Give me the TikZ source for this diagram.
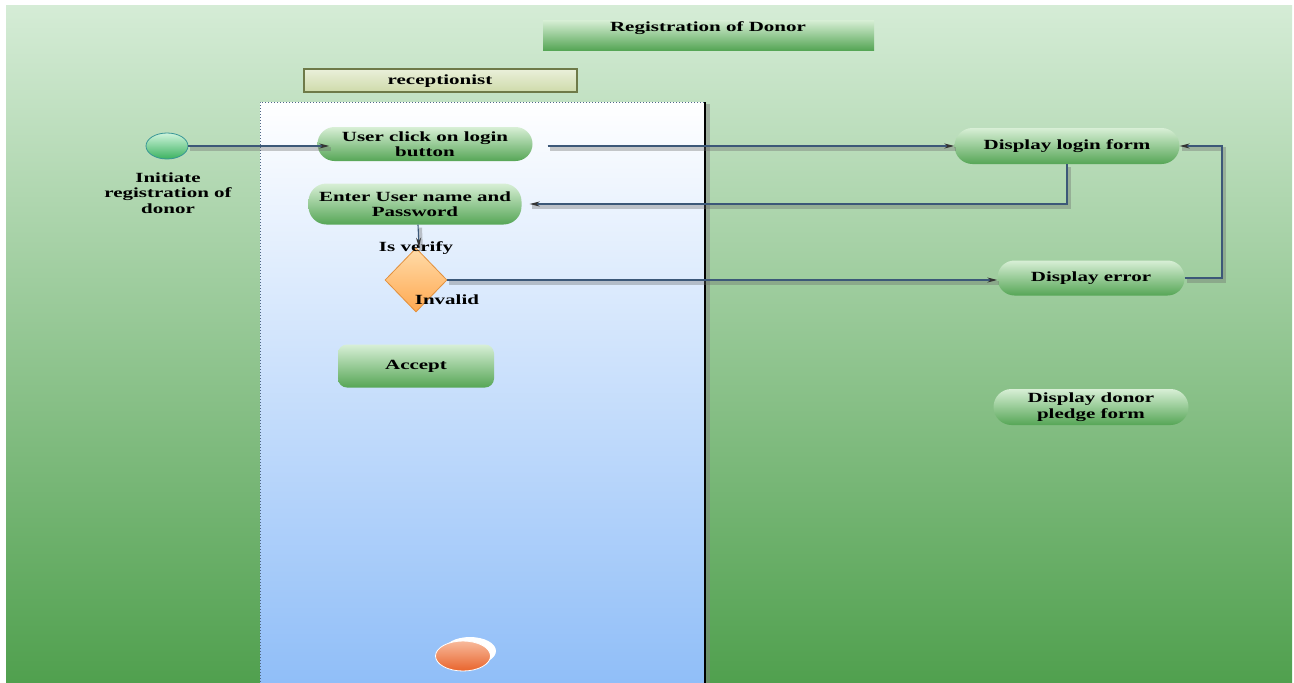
\documentclass[tikz,border=0pt]{standalone}
\usepackage{fontspec}
\usetikzlibrary{arrows.meta,shapes.geometric}
\newfontfamily\lblfont[FakeStretch=1.5]{Liberation Serif}
\definecolor{bgtop}{RGB}{213,236,214}
\definecolor{bgbot}{RGB}{80,160,78}
\definecolor{ndtop}{RGB}{216,239,214}
\definecolor{ndbot}{RGB}{86,166,86}
\definecolor{lanebot}{RGB}{144,190,248}
\definecolor{lineblue}{RGB}{60,88,120}
\definecolor{dmtop}{RGB}{255,220,170}
\definecolor{dmbot}{RGB}{255,168,80}
\definecolor{dmedge}{RGB}{226,144,60}
\tikzset{
  txt/.style={font=\lblfont\bfseries\fontsize{14}{15.5}\selectfont, align=center, text=black},
  act/.style={txt, rounded corners=17pt, top color=ndtop, bottom color=ndbot, draw=none, inner sep=0pt},
  flow/.style={draw=lineblue, line width=1.1pt, -{Stealth[length=10pt,width=5pt,color=black!80]},
    preaction={draw=black!60, opacity=0.35, line width=4pt, arrows=-, transform canvas={shift={(2pt,-3pt)}}}},
}
\begin{document}
\begin{tikzpicture}[x=1pt,y=-1pt]
\useasboundingbox (0,0) rectangle (1294,683);
\fill[white] (0,0) rectangle (1294,683);
\shade[top color=bgtop, bottom color=bgbot] (6,5) rectangle (1292,683);
% title
\shade[top color=ndtop, bottom color=ndbot] (543,20) rectangle (874,50);
\node[txt] (title) at (708,28) {Registration of Donor};
% receptionist header
\draw[draw={rgb,255:red,110;green,122;blue,72}, line width=1.5pt, top color={rgb,255:red,234;green,240;blue,218}, bottom color={rgb,255:red,206;green,218;blue,170}] (304,69) rectangle (577,92);
\node[txt] (recp) at (440,81) {receptionist};
% swimlane
\shade[top color=white, bottom color=lanebot] (260,102) rectangle (705,683);
\draw[dotted, line width=1pt, draw={rgb,255:red,80;green,104;blue,136}] (705,683) -- (705,102) -- (260,102) -- (260,683);
\draw[black!50, opacity=0.5, line width=4pt] (708,104) -- (708,683);
\draw[black, line width=2.2pt] (705,102) -- (705,683);
% initial node
\node[ellipse, minimum width=42pt, minimum height=26pt, draw={rgb,255:red,56;green,150;blue,150}, line width=0.8pt, top color={rgb,255:red,206;green,244;blue,220}, bottom color={rgb,255:red,60;green,178;blue,96}] (init) at (167,146) {};
\node[txt] (initlbl) at (168,193) {Initiate\\registration of\\donor};
% activities
\node[act, minimum width=215pt, minimum height=34pt] (uc) at (425,144) {User click on login\\button};
\node[act, minimum width=213pt, minimum height=41pt, rounded corners=18pt] (enter) at (415,204) {Enter User name and\\Password};
\node[diamond, minimum width=62pt, minimum height=64pt, inner sep=0pt, draw=dmedge, line width=0.8pt, top color=dmtop, bottom color=dmbot] (dec) at (416,280) {};
\node[txt] (isv) at (416,248) {Is verify};
\node[txt] (inv) at (447,300) {Invalid};
\node[act, minimum width=156pt, minimum height=43pt, rounded corners=9pt] (acc) at (416,366) {Accept};
\node[act, minimum width=225pt, minimum height=36pt, rounded corners=18pt] (dlf) at (1067,146) {Display login form};
\node[act, minimum width=187pt, minimum height=35pt] (derr) at (1091,278) {Display error};
\node[act, minimum width=195pt, minimum height=36pt, rounded corners=18pt] (dpf) at (1091,407) {Display donor\\pledge form};
% final node
\node[ellipse, minimum width=52pt, minimum height=28pt, fill=white, inner sep=0pt] (fin2) at (470,651) {};
\node[ellipse, minimum width=55pt, minimum height=30pt, draw=white, line width=0.8pt, top color={rgb,255:red,248;green,186;blue,156}, bottom color={rgb,255:red,232;green,100;blue,44}, inner sep=0pt] (fin) at (463,656) {};
% flows
\draw[flow] (init.east) -- ([xshift=12pt]uc.west |- init.east);
\draw[flow, shorten <=15pt] (uc.east |- dlf.west) -- (dlf.west);
\draw[flow] (dlf.south) |- ([xshift=8pt]enter.east);
\draw[flow] ([xshift=3pt]enter.south) -- ([xshift=3pt]dec.north);
\draw[flow] (dec.east) -- (dec.east -| derr.west);
\coordinate (rt) at (1222,278);
\draw[flow] (derr.east) -- (rt) |- (dlf.east);
\end{tikzpicture}
\end{document}
